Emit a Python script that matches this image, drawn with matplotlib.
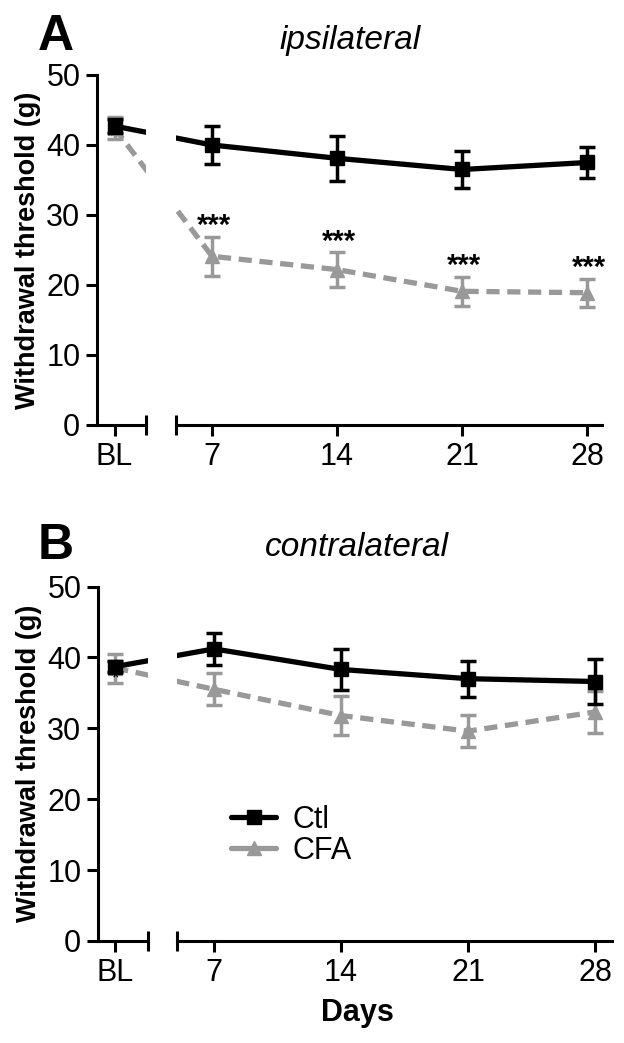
import matplotlib
matplotlib.use("Agg")
import matplotlib.pyplot as plt
import numpy as np
from matplotlib.lines import Line2D

plt.rcParams['font.family'] = ['Liberation Sans', 'DejaVu Sans']

# ---------------- data ----------------
day_labels = ['BL', '7', '14', '21', '28']
days = [7, 14, 21, 28]

# Panel A (ipsilateral)
ipsi_ctl_mean = [42.7, 40.0, 38.1, 36.5, 37.5]
ipsi_ctl_sem = [1.0, 2.65, 3.2, 2.65, 2.2]
ipsi_cfa_mean = [42.4, 24.1, 22.2, 19.1, 18.9]
ipsi_cfa_sem = [1.6, 2.75, 2.45, 2.1, 2.0]
ipsi_sig = ['', '***', '***', '***', '***']

# Panel B (contralateral)
contra_ctl_mean = [38.7, 41.2, 38.3, 37.0, 36.6]
contra_ctl_sem = [0.8, 2.25, 2.9, 2.55, 3.2]
contra_cfa_mean = [38.5, 35.5, 31.8, 29.6, 32.3]
contra_cfa_sem = [2.05, 2.25, 2.7, 2.3, 2.9]

series_names = ['Ctl', 'CFA']
# ---------------------------------------

BL_POS = 1.55
xpos = [BL_POS] + days

BLACK = '#000000'
GRAY = '#999999'
LW = 3.8
DASH = (2.5, 1.45)

fig = plt.figure(figsize=(6.24, 10.43), dpi=100)
W, H = 624.0, 1043.0


def px_axes(left, right, top, bottom):
    return fig.add_axes([left / W, 1 - bottom / H, (right - left) / W, (bottom - top) / H])


def draw_series(ax, mean, sem, color, marker, dashed):
    kw = dict(color=color, lw=LW, marker=marker, ms=10 if marker == 's' else 10,
              mfc=color, mec=color, ecolor=color, elinewidth=2.5, capsize=6,
              capthick=2.5, zorder=3 if color == BLACK else 2)
    eb = ax.errorbar(xpos, mean, yerr=sem, **kw)
    if dashed:
        eb.lines[0].set_dashes(DASH)
        eb.lines[0].set_dash_capstyle('butt')
    return eb


def style_axes(ax1, ax2, xl1, xl2):
    for ax in (ax1, ax2):
        ax.set_ylim(0, 50)
        for s in ('top', 'right'):
            ax.spines[s].set_visible(False)
        ax.spines['bottom'].set_linewidth(2.2)
        ax.spines['left'].set_linewidth(2.2)
        ax.tick_params(axis='both', width=2.2, length=8, labelsize=22, pad=4)
        ax.patch.set_alpha(0)
    ax1.set_xlim(*xl1)
    ax2.set_xlim(*xl2)
    ax2.spines['left'].set_visible(False)
    ax2.tick_params(axis='y', left=False, labelleft=False)
    ax1.set_yticks([0, 10, 20, 30, 40, 50])
    ax1.set_xticks([BL_POS])
    ax1.set_xticklabels([day_labels[0]])
    ax2.set_xticks(days)
    ax2.set_xticklabels(day_labels[1:])
    ax1.set_ylabel('Withdrawal threshold (g)', fontsize=19.5, fontweight='bold', labelpad=4)
    # break caps
    ax1.plot([1, 1], [-0.028, 0.028], transform=ax1.transAxes, color='k', lw=2.2,
             clip_on=False, solid_capstyle='butt')
    ax2.plot([0, 0], [-0.028, 0.028], transform=ax2.transAxes, color='k', lw=2.2,
             clip_on=False, solid_capstyle='butt')


# ---------- Panel A ----------
a1 = px_axes(97, 146, 75, 425)
a2 = px_axes(176, 602, 75, 425)
for ax in (a1, a2):
    draw_series(ax, ipsi_cfa_mean, ipsi_cfa_sem, GRAY, '^', True)
    draw_series(ax, ipsi_ctl_mean, ipsi_ctl_sem, BLACK, 's', False)
style_axes(a1, a2, (0.57, 3.31), (4.98, 28.83))
for x, m, s, t in zip(xpos, ipsi_cfa_mean, ipsi_cfa_sem, ipsi_sig):
    if t:
        a2.text(x + 0.1, m + s + 0.4, t, ha='center', va='baseline', fontsize=21,
                fontweight='bold', zorder=5)
fig.text(56 / W, 1 - 37 / H, 'A', fontsize=36, fontweight='bold', ha='center', va='center')
fig.text(350 / W, 1 - 40 / H, 'ipsilateral', fontsize=24, style='italic', ha='center', va='center')

# ---------- Panel B ----------
b1 = px_axes(98, 148, 586.5, 941)
b2 = px_axes(177, 612, 586.5, 941)
for ax in (b1, b2):
    draw_series(ax, contra_cfa_mean, contra_cfa_sem, GRAY, '^', True)
    draw_series(ax, contra_ctl_mean, contra_ctl_sem, BLACK, 's', False)
style_axes(b1, b2, (0.60, 3.36), (4.96, 28.94))
b1.text(BL_POS, 37.0, '*', ha='center', va='center', fontsize=14, zorder=6)
fig.text(56 / W, 1 - 546 / H, 'B', fontsize=36, fontweight='bold', ha='center', va='center')
fig.text(357 / W, 1 - 548 / H, 'contralateral', fontsize=24, style='italic', ha='center', va='center')
fig.text(357 / W, 1 - 1013 / H, 'Days', fontsize=22, fontweight='bold', ha='center', va='center')

# legend
h_ctl = Line2D([], [], color=BLACK, lw=LW, marker='s', ms=10, solid_capstyle='round')
h_cfa = Line2D([], [], color=GRAY, lw=LW, marker='^', ms=10, solid_capstyle='round')
b2.legend([h_ctl, h_cfa], series_names, loc='upper left', bbox_to_anchor=(0.125, 0.385),
          frameon=False, fontsize=22, handlelength=1.45, handletextpad=0.55,
          labelspacing=0.05, borderpad=0, borderaxespad=0)

fig.savefig('out.png', dpi=100)
